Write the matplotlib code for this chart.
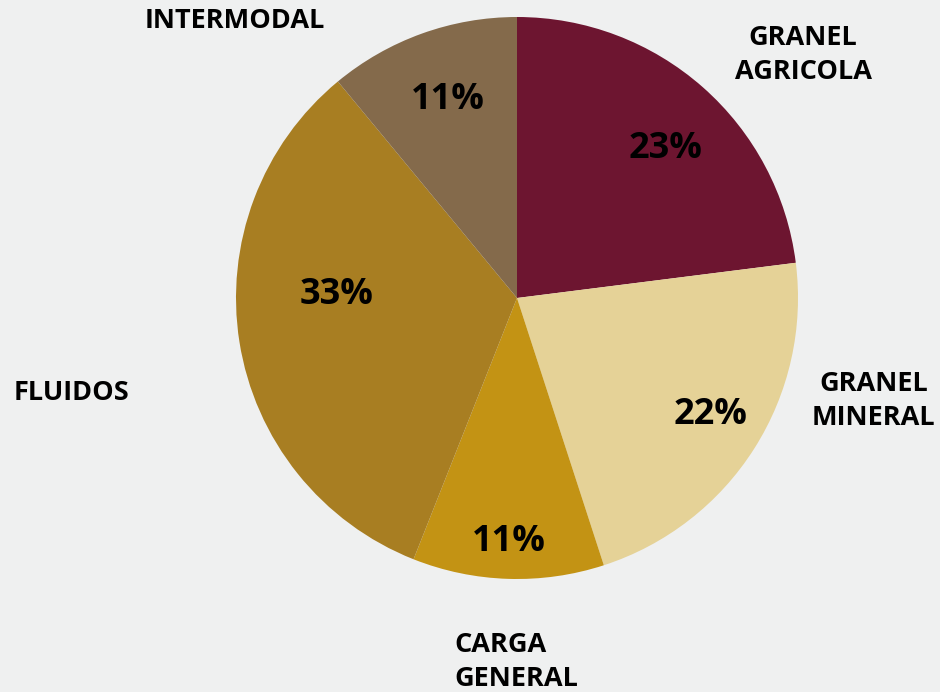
import matplotlib
matplotlib.use("Agg")
import matplotlib.pyplot as plt

plt.rcParams["font.family"] = ["Open Sans", "DejaVu Sans"]

categories = ["GRANEL\nAGRICOLA", "GRANEL\nMINERAL", "CARGA\nGENERAL", "FLUIDOS", "INTERMODAL"]
shares = [23, 22, 11, 33, 11]
colors = ["#6d1530", "#e5d297", "#c39314", "#a87e22", "#846a4b"]

# layout, in pie-radius units from the centre
label_xy = [(1.018, 0.874), (1.269, -0.358), (-0.224, -1.285), (-1.584, -0.327), (-1.004, 0.995)]
label_align = ["center", "center", "left", "center", "center"]
pct_xy = [(0.527, 0.537), (0.687, -0.409), (-0.030, -0.861), (-0.641, 0.018), (-0.247, 0.714)]

fig = plt.figure(figsize=(9.4, 6.92), dpi=100)
fig.patch.set_facecolor("#eff0f0")
ax = fig.add_axes([0, 0, 1, 1])
ax.set_facecolor("#eff0f0")

wedges, _ = ax.pie(shares, colors=colors, startangle=90, counterclock=False,
                   radius=1.0, wedgeprops=dict(linewidth=0))

ax.set_xlim(-517 / 281, (940 - 517) / 281)
ax.set_ylim(-(692 - 298) / 281, 298 / 281)
ax.set_aspect("auto")
ax.axis("off")

for i, w in enumerate(wedges):
    x, y = pct_xy[i]
    ax.text(x, y - 0.008, f"{shares[i]}%", ha="center", va="center",
            fontsize=26, fontweight="bold", color="black")
    x, y = label_xy[i]
    ax.text(x, y - 0.01, categories[i], ha=label_align[i], va="center",
            multialignment=label_align[i], fontsize=19.5, fontweight="bold",
            color="black", linespacing=1.4)

fig.savefig("out.png", dpi=100, facecolor=fig.get_facecolor())
